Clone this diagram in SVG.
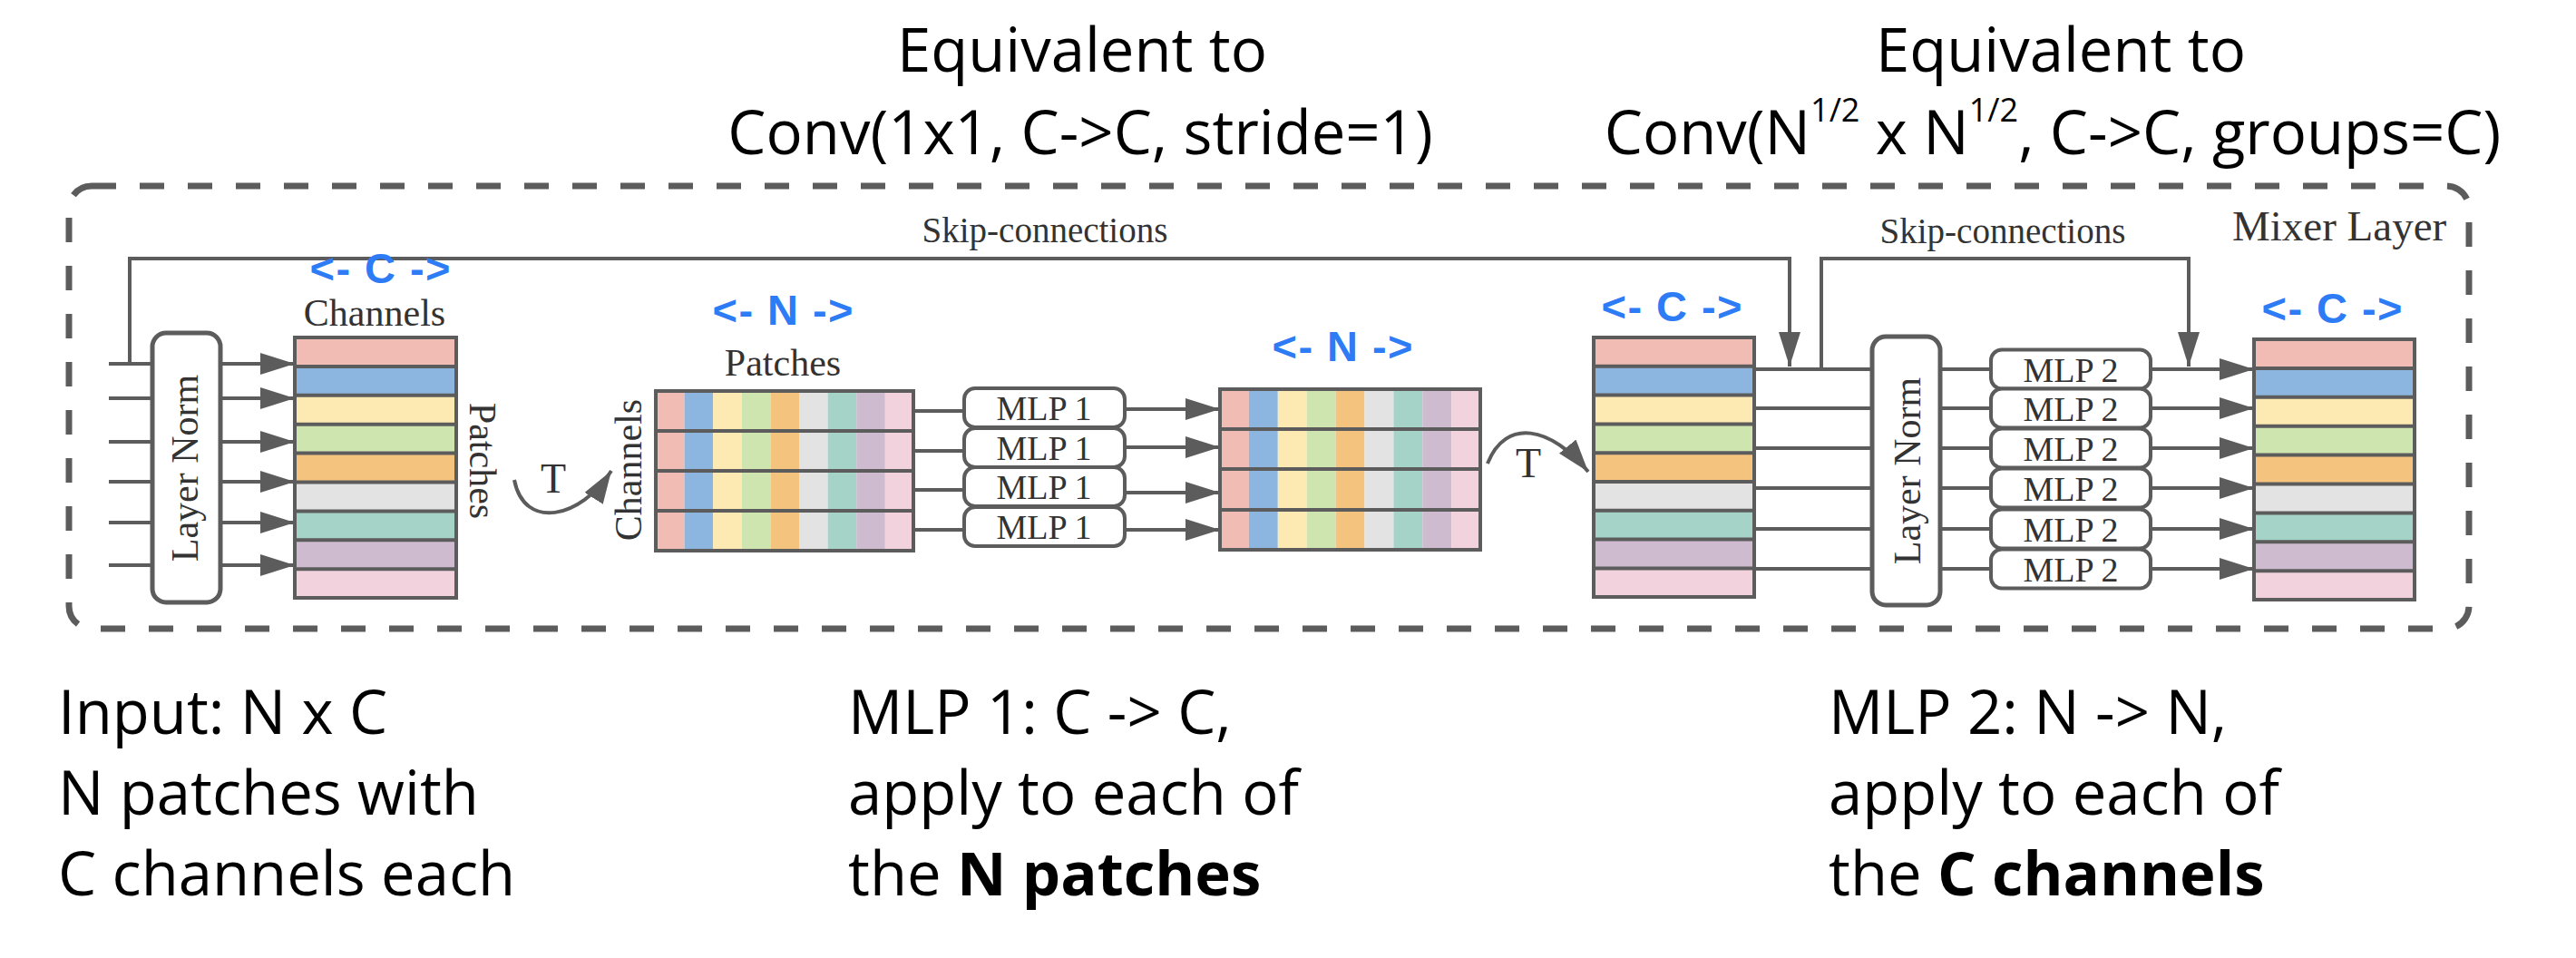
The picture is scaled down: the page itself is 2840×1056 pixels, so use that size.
<svg xmlns="http://www.w3.org/2000/svg" width="2840" height="1056" viewBox="0 0 2840 1056">
<defs>
<style>
.ln{fill:none;stroke:#5c5c5c;stroke-width:4}
.arr{marker-end:url(#ah)}
.tb{fill:none;stroke:#5c5c5c;stroke-width:4}
.sep{stroke:#5c5c5c;stroke-width:4}
.box{fill:#fff;stroke:#5c5c5c;stroke-width:4}
.lnorm{fill:#fff;stroke:#5c5c5c;stroke-width:5}
.border{fill:none;stroke:#5c5c5c;stroke-width:7;stroke-dasharray:27 26}
.serif{font-family:"Liberation Serif","Times New Roman",serif;fill:#333}
.lab{font-size:42px}
.mlp{font-size:38px;text-anchor:middle}
.blue{font-family:"Liberation Sans",Arial,sans-serif;font-weight:bold;fill:#2D7CF6;font-size:47px;text-anchor:middle}
.cal{font-family:"Open Sans","Noto Sans",sans-serif;font-size:67px;fill:#000}
.mid{text-anchor:middle}
.c1{fill:#F1BCB3}.c2{fill:#8CB6DF}.c3{fill:#FDEAB3}.c4{fill:#CFE5B0}.c5{fill:#F4C47F}
.c6{fill:#E3E3E3}.c7{fill:#A6D3C8}.c8{fill:#CEBBCF}.c9{fill:#F2D2DD}
</style>
<marker id="ah" viewBox="0 0 38 24" refX="38" refY="12" markerWidth="38" markerHeight="24" markerUnits="userSpaceOnUse" orient="auto"><path d="M0,0 L38,12 L0,24 z" fill="#5c5c5c"/></marker>
<marker id="ahc" viewBox="0 0 36 24" refX="36" refY="12" markerWidth="36" markerHeight="24" markerUnits="userSpaceOnUse" orient="auto"><path d="M0,0 L36,12 L0,24 z" fill="#5c5c5c"/></marker>
</defs>
<rect width="2840" height="1056" fill="#fff"/>

<g id="titles" class="cal mid">
<text x="1193" y="79">Equivalent to</text>
<text x="1191" y="170">Conv(1x1, C-&gt;C, stride=1)</text>
<text x="2272" y="79">Equivalent to</text>
<text x="2263" y="170">Conv(N<tspan font-size="36" dy="-36">1/2</tspan><tspan dy="36"> x N</tspan><tspan font-size="36" dy="-36">1/2</tspan><tspan dy="36">, C-&gt;C, groups=C)</tspan></text>
</g>

<g id="mixer-layer">
<rect class="border" x="76" y="205" width="2646" height="488" rx="25"/>
<text class="serif" x="2461" y="265" font-size="47" fill="#222">Mixer Layer</text>
</g>

<g id="connectors">
<path class="ln arr" d="M143 401 V285 H1973 V404"/>
<path class="ln arr" d="M2008 407 V285 H2413 V404"/>
<text class="serif mid" x="1152" y="267" font-size="39">Skip-connections</text>
<text class="serif mid" x="2208" y="268" font-size="39">Skip-connections</text>
<path class="ln" d="M120 401 H168 M120 439 H168 M120 487 H168 M120 531 H168 M120 576 H168 M120 623 H168"/>
<path class="ln arr" d="M243 401 H325"/>
<path class="ln arr" d="M243 439 H325"/>
<path class="ln arr" d="M243 487 H325"/>
<path class="ln arr" d="M243 531 H325"/>
<path class="ln arr" d="M243 576 H325"/>
<path class="ln arr" d="M243 623 H325"/>
<path class="ln" d="M1007 453 H1063 M1007 497 H1063 M1007 540 H1063 M1007 584 H1063"/>
<path class="ln arr" d="M1240 451 H1345"/>
<path class="ln arr" d="M1240 493 H1345"/>
<path class="ln arr" d="M1240 543 H1345"/>
<path class="ln arr" d="M1240 584 H1345"/>
<path class="ln" d="M1934 407 H2064 M1934 450 H2064 M1934 494 H2064 M1934 538 H2064 M1934 583 H2064 M1934 627 H2064"/>
<path class="ln" d="M2139 407 H2195 M2139 450 H2195 M2139 494 H2195 M2139 538 H2195 M2139 583 H2195 M2139 627 H2195"/>
<path class="ln arr" d="M2371 407 H2485"/>
<path class="ln arr" d="M2371 450 H2485"/>
<path class="ln arr" d="M2371 494 H2485"/>
<path class="ln arr" d="M2371 538 H2485"/>
<path class="ln arr" d="M2371 583 H2485"/>
<path class="ln arr" d="M2371 627 H2485"/>
<path class="ln" style="marker-end:url(#ahc)" d="M567 529 C578 585, 640 572, 674 519"/>
<path class="ln" style="marker-end:url(#ahc)" d="M1640 511 C1660 460, 1710 470, 1751 520"/>
<text class="serif mid" x="610" y="543" font-size="46">T</text>
<text class="serif mid" x="1685" y="526" font-size="46">T</text>
</g>

<g id="layer-norm-1">
<rect class="lnorm" x="168" y="367" width="75" height="297" rx="15"/>
<text class="serif lab mid" transform="translate(218 516) rotate(-90)">Layer Norm</text>
</g>

<g id="table-1">
<rect class="c1" x="325" y="372" width="178" height="31.9"/>
<rect class="c2" x="325" y="403.9" width="178" height="31.9"/>
<rect class="c3" x="325" y="435.8" width="178" height="31.9"/>
<rect class="c4" x="325" y="467.7" width="178" height="31.9"/>
<rect class="c5" x="325" y="499.6" width="178" height="31.9"/>
<rect class="c6" x="325" y="531.5" width="178" height="31.9"/>
<rect class="c7" x="325" y="563.4" width="178" height="31.9"/>
<rect class="c8" x="325" y="595.3" width="178" height="31.9"/>
<rect class="c9" x="325" y="627.2" width="178" height="31.9"/>
<path class="sep" d="M325 403.9 H503 M325 435.8 H503 M325 467.7 H503 M325 499.6 H503 M325 531.5 H503 M325 563.4 H503 M325 595.3 H503 M325 627.2 H503"/>
<rect class="tb" x="325" y="372" width="178" height="287"/>
<text class="blue" x="419" y="312" textLength="155">&lt;- C -&gt;</text>
<text class="serif lab mid" x="413" y="359">Channels</text>
<text class="serif lab mid" transform="translate(518 508) rotate(90)">Patches</text>
</g>

<g id="table-2">
<rect class="c1" x="723" y="431" width="31.6" height="176"/>
<rect class="c2" x="754.6" y="431" width="31.6" height="176"/>
<rect class="c3" x="786.2" y="431" width="31.6" height="176"/>
<rect class="c4" x="817.8" y="431" width="31.6" height="176"/>
<rect class="c5" x="849.4" y="431" width="31.6" height="176"/>
<rect class="c6" x="881" y="431" width="31.6" height="176"/>
<rect class="c7" x="912.6" y="431" width="31.6" height="176"/>
<rect class="c8" x="944.2" y="431" width="31.6" height="176"/>
<rect class="c9" x="975.8" y="431" width="31.2" height="176"/>
<path class="sep" d="M723 475 H1007 M723 519 H1007 M723 563 H1007"/>
<rect class="tb" x="723" y="431" width="284" height="176"/>
<text class="blue" x="863" y="358" textLength="155">&lt;- N -&gt;</text>
<text class="serif lab mid" x="863" y="414">Patches</text>
<text class="serif lab mid" transform="translate(707 518) rotate(-90)">Channels</text>
</g>

<g id="mlp1-1"><rect class="box" x="1063" y="428" width="177" height="43" rx="12"/><text class="serif mlp" x="1151" y="463">MLP 1</text></g>
<g id="mlp1-2"><rect class="box" x="1063" y="472" width="177" height="43" rx="12"/><text class="serif mlp" x="1151" y="507">MLP 1</text></g>
<g id="mlp1-3"><rect class="box" x="1063" y="515" width="177" height="43" rx="12"/><text class="serif mlp" x="1151" y="550">MLP 1</text></g>
<g id="mlp1-4"><rect class="box" x="1063" y="559" width="177" height="43" rx="12"/><text class="serif mlp" x="1151" y="594">MLP 1</text></g>

<g id="table-3">
<rect class="c1" x="1345" y="429" width="31.9" height="177"/>
<rect class="c2" x="1376.9" y="429" width="31.9" height="177"/>
<rect class="c3" x="1408.8" y="429" width="31.9" height="177"/>
<rect class="c4" x="1440.7" y="429" width="31.9" height="177"/>
<rect class="c5" x="1472.6" y="429" width="31.9" height="177"/>
<rect class="c6" x="1504.5" y="429" width="31.9" height="177"/>
<rect class="c7" x="1536.4" y="429" width="31.9" height="177"/>
<rect class="c8" x="1568.3" y="429" width="31.9" height="177"/>
<rect class="c9" x="1600.2" y="429" width="31.8" height="177"/>
<path class="sep" d="M1345 473 H1632 M1345 517 H1632 M1345 562 H1632"/>
<rect class="tb" x="1345" y="429" width="287" height="177"/>
<text class="blue" x="1480" y="398" textLength="155">&lt;- N -&gt;</text>
</g>

<g id="table-4">
<rect class="c1" x="1757" y="372" width="177" height="31.8"/>
<rect class="c2" x="1757" y="403.8" width="177" height="31.8"/>
<rect class="c3" x="1757" y="435.6" width="177" height="31.8"/>
<rect class="c4" x="1757" y="467.4" width="177" height="31.8"/>
<rect class="c5" x="1757" y="499.2" width="177" height="31.8"/>
<rect class="c6" x="1757" y="531" width="177" height="31.8"/>
<rect class="c7" x="1757" y="562.8" width="177" height="31.8"/>
<rect class="c8" x="1757" y="594.6" width="177" height="31.8"/>
<rect class="c9" x="1757" y="626.4" width="177" height="31.6"/>
<path class="sep" d="M1757 403.8 H1934 M1757 435.6 H1934 M1757 467.4 H1934 M1757 499.2 H1934 M1757 531 H1934 M1757 562.8 H1934 M1757 594.6 H1934 M1757 626.4 H1934"/>
<rect class="tb" x="1757" y="372" width="177" height="286"/>
<text class="blue" x="1843" y="354" textLength="155">&lt;- C -&gt;</text>
</g>

<g id="layer-norm-2">
<rect class="lnorm" x="2064" y="371" width="75" height="296" rx="15"/>
<text class="serif lab mid" transform="translate(2117 519) rotate(-90)">Layer Norm</text>
</g>

<g id="mlp2-1"><rect class="box" x="2195" y="385.5" width="176" height="43" rx="12"/><text class="serif mlp" x="2283" y="420.5">MLP 2</text></g>
<g id="mlp2-2"><rect class="box" x="2195" y="428.5" width="176" height="43" rx="12"/><text class="serif mlp" x="2283" y="463.5">MLP 2</text></g>
<g id="mlp2-3"><rect class="box" x="2195" y="472.5" width="176" height="43" rx="12"/><text class="serif mlp" x="2283" y="507.5">MLP 2</text></g>
<g id="mlp2-4"><rect class="box" x="2195" y="516.5" width="176" height="43" rx="12"/><text class="serif mlp" x="2283" y="551.5">MLP 2</text></g>
<g id="mlp2-5"><rect class="box" x="2195" y="561.5" width="176" height="43" rx="12"/><text class="serif mlp" x="2283" y="596.5">MLP 2</text></g>
<g id="mlp2-6"><rect class="box" x="2195" y="605.5" width="176" height="43" rx="12"/><text class="serif mlp" x="2283" y="640.5">MLP 2</text></g>

<g id="table-5">
<rect class="c1" x="2485" y="374" width="177" height="31.9"/>
<rect class="c2" x="2485" y="405.9" width="177" height="31.9"/>
<rect class="c3" x="2485" y="437.8" width="177" height="31.9"/>
<rect class="c4" x="2485" y="469.7" width="177" height="31.9"/>
<rect class="c5" x="2485" y="501.6" width="177" height="31.9"/>
<rect class="c6" x="2485" y="533.5" width="177" height="31.9"/>
<rect class="c7" x="2485" y="565.4" width="177" height="31.9"/>
<rect class="c8" x="2485" y="597.3" width="177" height="31.9"/>
<rect class="c9" x="2485" y="629.2" width="177" height="31.8"/>
<path class="sep" d="M2485 405.9 H2662 M2485 437.8 H2662 M2485 469.7 H2662 M2485 501.6 H2662 M2485 533.5 H2662 M2485 565.4 H2662 M2485 597.3 H2662 M2485 629.2 H2662"/>
<rect class="tb" x="2485" y="374" width="177" height="287"/>
<text class="blue" x="2571" y="356" textLength="155">&lt;- C -&gt;</text>
</g>

<g id="captions" class="cal">
<text x="64" y="809">Input: N x C</text>
<text x="64" y="898">N patches with</text>
<text x="64" y="987">C channels each</text>
<text x="935" y="809">MLP 1: C -&gt; C,</text>
<text x="935" y="898">apply to each of</text>
<text x="935" y="987">the <tspan font-weight="bold">N patches</tspan></text>
<text x="2016" y="809">MLP 2: N -&gt; N,</text>
<text x="2016" y="898">apply to each of</text>
<text x="2016" y="987">the <tspan font-weight="bold">C channels</tspan></text>
</g>
</svg>
